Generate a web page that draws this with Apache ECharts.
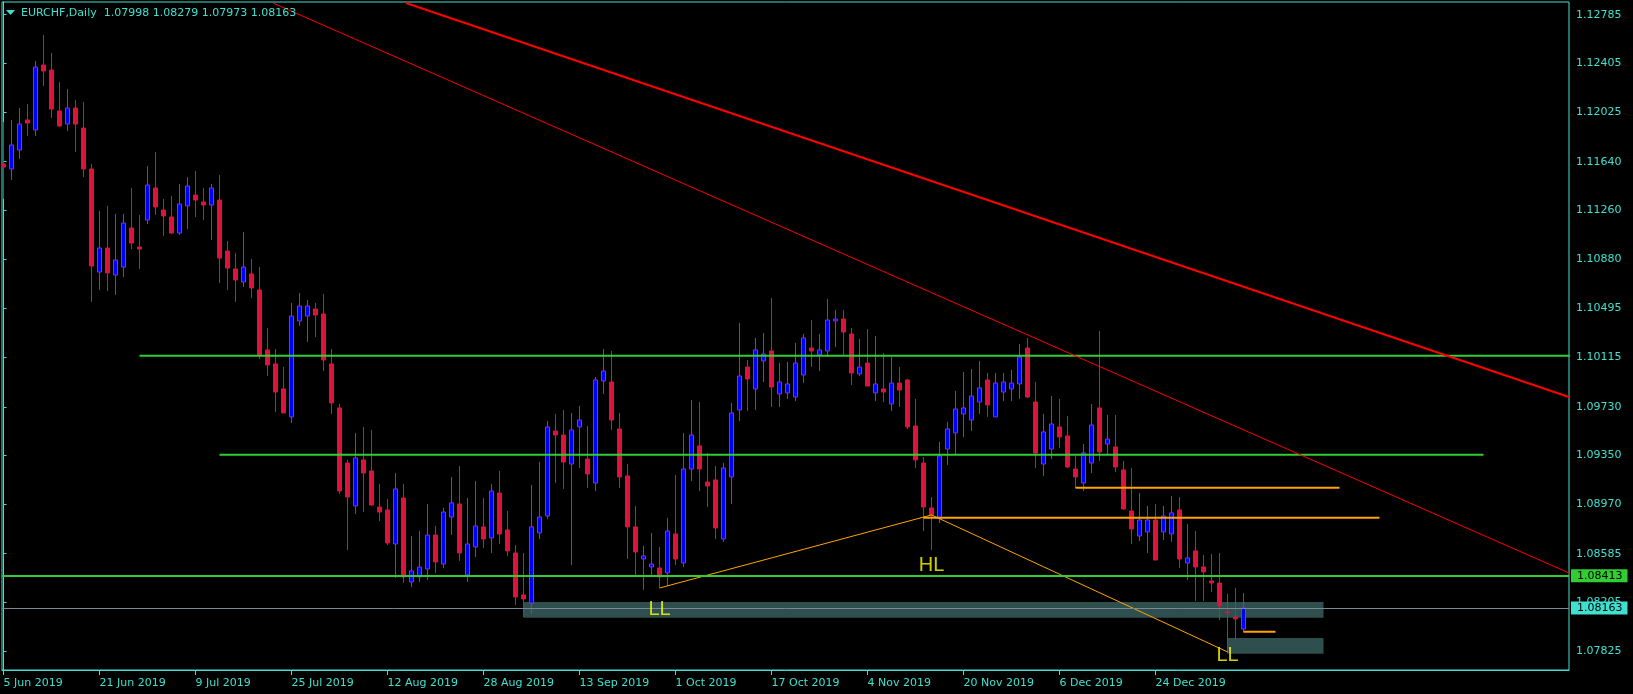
<!DOCTYPE html>
<html><head><meta charset="utf-8">
<script src="https://cdn.jsdelivr.net/npm/echarts@6/dist/echarts.min.js"></script>
<style>html,body{margin:0;padding:0;background:#000;}#c{width:1633px;height:694px;}</style>
</head><body><div id="c"></div>
<script>
// ---------- data ----------
const symbolName = 'EURCHF';
const periodName = 'Daily';
const tickLabels = ['5 Jun 2019','21 Jun 2019','9 Jul 2019','25 Jul 2019','12 Aug 2019','28 Aug 2019','13 Sep 2019','1 Oct 2019','17 Oct 2019','4 Nov 2019','20 Nov 2019','6 Dec 2019','24 Dec 2019'];
const tickStep = 12; // bars between date labels
const priceTicks = [1.12785,1.12405,1.12025,1.11640,1.11260,1.10880,1.10495,1.10115,1.09730,1.09350,1.08970,1.08585,1.08205,1.07825];

const open = [1.11622,1.11583,1.11731,1.11965,1.11887,1.12393,1.12354,1.12035,1.11933,1.12058,
1.11902,1.11583,1.10780,1.10967,1.10757,1.10819,1.11123,1.10975,1.11185,1.11435,
1.11263,1.11209,1.11084,1.11295,1.11380,1.11326,1.11302,1.11341,1.10944,1.10804,
1.10702,1.10765,1.10640,1.10173,1.10064,1.09869,1.09651,1.10399,1.10437,1.10492,
1.10453,1.10064,1.09721,1.09292,1.08957,1.09316,1.09230,1.08949,1.08926,1.08661,
1.09019,1.08365,1.08404,1.08466,1.08731,1.08505,1.08871,1.08973,1.08420,1.08638,
1.08794,1.08708,1.09058,1.08770,1.08591,1.08264,1.08201,1.08747,1.08879,1.09541,
1.09510,1.09284,1.09573,1.09323,1.09136,1.09931,1.09923,1.09557,1.09191,1.08794,
1.08544,1.08482,1.08474,1.08435,1.08739,1.08513,1.09245,1.09425,1.09144,1.09160,
1.08700,1.09183,1.09705,1.10040,1.09869,1.10087,1.10165,1.09830,1.09838,1.09806,
1.09978,1.10188,1.10134,1.10165,1.10399,1.10414,1.10297,1.09986,1.10071,1.09838,
1.09869,1.09752,1.09915,1.09939,1.09580,1.09292,1.08942,1.08864,1.09401,1.09526,
1.09674,1.09627,1.09767,1.09939,1.09651,1.09845,1.09869,1.09908,1.10188,1.09767,
1.09284,1.09401,1.09573,1.09503,1.09245,1.09136,1.09292,1.09721,1.09440,1.09417,
1.09238,1.08918,1.08723,1.08755,1.08848,1.08755,1.08739,1.08926,1.08513,1.08607,
1.08482,1.08373,1.08357,1.08131,1.08092,1.07998];
const high = [1.11949,1.11965,1.12058,1.12089,1.12424,1.12627,1.12487,1.12261,1.12206,1.12120,
1.12105,1.11622,1.11256,1.11295,1.11232,1.11232,1.11435,1.11224,1.11606,1.11715,
1.11349,1.11372,1.11466,1.11520,1.11567,1.11435,1.11466,1.11536,1.11022,1.10928,
1.11092,1.10882,1.10819,1.10344,1.10180,1.10040,1.10539,1.10617,1.10562,1.10539,
1.10609,1.10180,1.09752,1.09316,1.09526,1.09573,1.09549,1.09129,1.09012,1.09214,
1.09129,1.08723,1.08762,1.08973,1.08801,1.08942,1.09183,1.09269,1.09019,1.09152,
1.09019,1.09129,1.09230,1.08918,1.08653,1.08591,1.09121,1.09300,1.09619,1.09674,
1.09705,1.09682,1.09736,1.09580,1.09962,1.10180,1.10165,1.09682,1.09284,1.08957,
1.08646,1.08747,1.08638,1.08864,1.09199,1.09526,1.09783,1.09767,1.09370,1.09269,
1.09292,1.09760,1.10383,1.10095,1.10266,1.10305,1.10578,1.10071,1.10079,1.10227,
1.10297,1.10406,1.10297,1.10570,1.10484,1.10484,1.10344,1.10258,1.10336,1.10282,
1.10149,1.10118,1.10040,1.09947,1.09791,1.09339,1.09027,1.09456,1.09612,1.09853,
1.10001,1.10025,1.10087,1.09993,1.09993,1.09993,1.10017,1.10219,1.10266,1.09923,
1.09674,1.09814,1.09791,1.09658,1.09347,1.09440,1.09752,1.10321,1.09666,1.09666,
1.09308,1.09253,1.09058,1.08957,1.08973,1.08957,1.09035,1.09027,1.08817,1.08762,
1.08575,1.08583,1.08591,1.08272,1.08318,1.08279];
const low = [1.11349,1.11497,1.11661,1.11840,1.11840,1.12229,1.11980,1.11910,1.11879,1.11715,
1.11520,1.10547,1.10640,1.10632,1.10601,1.10741,1.10959,1.10804,1.11154,1.11224,
1.11061,1.11076,1.11069,1.11115,1.11209,1.11185,1.11030,1.10695,1.10640,1.10547,
1.10663,1.10578,1.10102,1.09970,1.09690,1.09682,1.09604,1.10360,1.10235,1.10274,
1.10009,1.09674,1.09051,1.08614,1.08895,1.08910,1.08957,1.08840,1.08653,1.08396,
1.08357,1.08326,1.08365,1.08381,1.08435,1.08474,1.08731,1.08529,1.08365,1.08560,
1.08630,1.08591,1.08661,1.08568,1.08186,1.08092,1.08116,1.08700,1.08856,1.09136,
1.09090,1.08497,1.09253,1.09097,1.09074,1.09830,1.09549,1.09097,1.08544,1.08420,
1.08303,1.08420,1.08318,1.08334,1.08497,1.08482,1.09152,1.09074,1.08949,1.08700,
1.08677,1.08973,1.09619,1.09697,1.09705,1.09923,1.09728,1.09728,1.09791,1.09775,
1.09915,1.10040,1.10009,1.10118,1.10196,1.10134,1.09900,1.09970,1.09892,1.09775,
1.09767,1.09697,1.09728,1.09557,1.09253,1.08762,1.08614,1.08825,1.09277,1.09362,
1.09495,1.09541,1.09674,1.09651,1.09651,1.09775,1.09775,1.09791,1.09799,1.09253,
1.09191,1.09323,1.09409,1.09253,1.09097,1.09074,1.09214,1.09308,1.09362,1.09222,
1.08926,1.08661,1.08684,1.08591,1.08536,1.08692,1.08677,1.08474,1.08381,1.08217,
1.08217,1.08287,1.08069,1.07812,1.07921,1.07973];
const close = [1.11598,1.11770,1.11933,1.11941,1.12377,1.12346,1.12050,1.11918,1.12058,1.11933,
1.11583,1.10827,1.10967,1.10773,1.10874,1.11162,1.11006,1.10959,1.11458,1.11287,
1.11217,1.11084,1.11310,1.11450,1.11341,1.11302,1.11435,1.10889,1.10811,1.10718,
1.10819,1.10656,1.10134,1.10056,1.09845,1.09682,1.10437,1.10515,1.10515,1.10445,
1.10095,1.09760,1.09074,1.09027,1.09331,1.09214,1.08965,1.08910,1.08669,1.09090,
1.08404,1.08451,1.08482,1.08731,1.08521,1.08910,1.08981,1.08591,1.08661,1.08801,
1.08700,1.09074,1.08739,1.08607,1.08248,1.08233,1.08794,1.08871,1.09573,1.09510,
1.09300,1.09549,1.09627,1.09206,1.09939,1.10009,1.09627,1.09183,1.08794,1.08599,
1.08568,1.08505,1.08404,1.08762,1.08544,1.09245,1.09510,1.09245,1.09113,1.08786,
1.09253,1.09682,1.09970,1.09947,1.10173,1.10141,1.09884,1.09923,1.09908,1.10071,
1.10266,1.10165,1.10173,1.10406,1.10414,1.10313,1.09993,1.10040,1.09892,1.09908,
1.09845,1.09915,1.09861,1.09573,1.09316,1.08949,1.08887,1.09347,1.09557,1.09713,
1.09721,1.09814,1.09877,1.09744,1.09915,1.09923,1.09915,1.10118,1.09806,1.09370,
1.09534,1.09596,1.09495,1.09261,1.09183,1.09370,1.09588,1.09378,1.09479,1.09261,
1.08934,1.08778,1.08848,1.08848,1.08536,1.08879,1.08903,1.08544,1.08552,1.08482,
1.08443,1.08357,1.08178,1.08123,1.08077,1.08163];

// drawn objects, in [bar index, price]
const thickTrend = [[50.31,1.12876],[195.69,1.09806]];
const thinTrend = [[33.69,1.12876],[195.69,1.08435]];
const swingPath = [[82,1.08318],[116,1.08887],[153,1.07820]];
const swingNames = ['LL','HL','LL'];
const swingTextAt = [[82,1.08151],[116,1.08490],[153,1.07792]];
const greenLevels = [[17,196,1.10127],[27,185,1.09357]]; // [fromBar,toBar,price]
const orangeLevels = [[134,167,1.09100],[115,172,1.08866]];
const orangeShort = [[155,159,1.07978]];
const zones = [[65,165,1.08209,1.08087],[153,165,1.07929,1.07806]]; // [fromBar,toBar,top,bottom]
const supportLevel = 1.08413;

// ---------- chart ----------
const AX = '#40E0D0';
const FONT = '"DejaVu Sans", sans-serif';
const last = open.length - 1;
const candles = open.map((o, i) => [i, o, close[i], low[i], high[i]]);

function segSeries(list, color, width, z) {
  return list.map(s => ({
    type: 'line', data: [[s[0], s[2]], [s[1], s[2]]], showSymbol: false, symbol: 'none',
    lineStyle: { color, width }, silent: true, clip: true, z, animation: false
  }));
}

const priceLabel = (bg) => ({
  show: true, position: 'end', distance: 2, color: '#000', fontFamily: FONT, fontSize: 11,
  padding: [1, 5, 1, 6], backgroundColor: bg, formatter: p => Number(p.value).toFixed(5)
});

const chart = echarts.init(document.getElementById('c'), null, { renderer: 'canvas' });
chart.setOption({
  backgroundColor: '#000000',
  animation: false,
  grid: { left: 2, right: 64, top: 2, bottom: 24, show: true, borderColor: AX, borderWidth: 1, backgroundColor: 'transparent' },
  xAxis: {
    type: 'value', min: -0.1875, max: 195.6875,
    axisLine: { show: true, lineStyle: { color: AX } },
    axisTick: { show: true, length: 5, lineStyle: { color: AX }, customValues: tickLabels.map((_, k) => k * tickStep) },
    axisLabel: {
      show: true, color: AX, fontFamily: FONT, fontSize: 11, align: 'left', margin: 8,
      customValues: tickLabels.map((_, k) => k * tickStep),
      formatter: v => tickLabels[Math.round(v / tickStep)] || ''
    },
    splitLine: { show: false }
  },
  yAxis: {
    type: 'value', position: 'right', min: 1.07679, max: 1.12884, scale: true,
    axisLine: { show: true, lineStyle: { color: AX } },
    axisTick: { show: true, length: 3, lineStyle: { color: AX }, customValues: priceTicks },
    axisLabel: { show: true, color: AX, fontFamily: FONT, fontSize: 11, margin: 7, customValues: priceTicks, formatter: v => v.toFixed(5) },
    splitLine: { show: false }
  },
  graphic: [
    { type: 'polygon', shape: { points: [[6, 10], [15, 10], [10.5, 15]] }, style: { fill: AX }, z: 100 },
    { type: 'text', x: 21, y: 13, z: 100, style: {
      text: symbolName + ',' + periodName + '  ' + [open[last], high[last], low[last], close[last]].map(v => v.toFixed(5)).join(' '),
      fill: AX, font: '11px ' + FONT, verticalAlign: 'middle' } }
  ],
  series: [
    {
      type: 'custom', z: 1, clip: true, silent: true,
      data: zones,
      encode: { x: [0, 1], y: [2, 3] },
      renderItem: (params, api) => {
        const p1 = api.coord([api.value(0), api.value(2)]);
        const p2 = api.coord([api.value(1), api.value(3)]);
        return { type: 'rect', shape: { x: p1[0], y: p1[1], width: p2[0] - p1[0], height: p2[1] - p1[1] }, style: { fill: '#2F4F4F' } };
      }
    },
    {
      type: 'candlestick', z: 2, data: candles, barWidth: 4, clip: true,
      itemStyle: { color: '#0000FF', color0: '#DC143C', borderColor: '#8A2BE2', borderColor0: '#DC143C', borderWidth: 1 }
    },
    ...segSeries(greenLevels, '#32CD32', 2, 3),
    ...segSeries(orangeLevels, '#FFA500', 2, 3),
    ...segSeries(orangeShort, '#FFA500', 2, 3),
    { type: 'line', data: swingPath, showSymbol: false, symbol: 'none', lineStyle: { color: '#FFA500', width: 1 }, z: 3, silent: true },
    { type: 'line', data: thickTrend, showSymbol: false, symbol: 'none', lineStyle: { color: '#FF0000', width: 2 }, z: 3, silent: true, clip: true },
    {
      type: 'line', data: thinTrend, showSymbol: false, symbol: 'none', lineStyle: { color: '#FF0000', width: 1 }, z: 4, silent: true, clip: true,
      markLine: {
        symbol: ['none', 'none'], silent: true, animation: false, precision: 5,
        data: [
          { name: 'support', yAxis: supportLevel, lineStyle: { color: '#32CD32', width: 2, type: 'solid' }, label: priceLabel('#32CD32') },
          { name: 'price', yAxis: close[last], lineStyle: { color: '#778899', width: 1, type: 'solid' }, label: priceLabel(AX) }
        ]
      }
    },
    {
      type: 'scatter', z: 5, silent: true, symbolSize: 1, itemStyle: { color: 'rgba(0,0,0,0)' },
      data: swingTextAt.map((p, k) => ({ value: p, name: swingNames[k] })),
      label: { show: true, position: 'inside', formatter: p => p.name, color: '#FFFF00', fontFamily: '"Liberation Sans", Arial, sans-serif', fontSize: 20 }
    }
  ]
});
</script></body></html>
